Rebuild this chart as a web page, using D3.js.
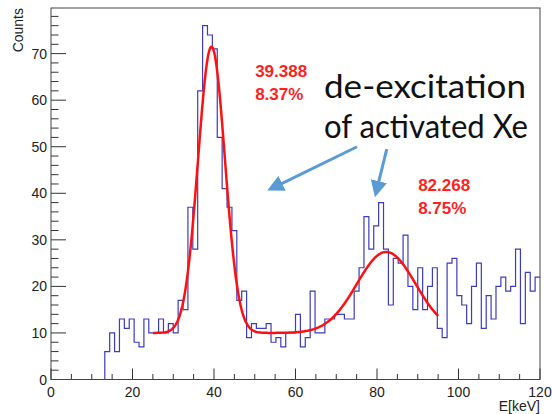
<!DOCTYPE html>
<html>
<head>
<meta charset="utf-8">
<script src="https://cdn.jsdelivr.net/npm/d3@7"></script>
<style>
  body { margin: 0; background: #fff; }
  svg { display: block; }
</style>
</head>
<body>
<svg width="552" height="414"></svg>
<script>
// histogram: 100 bins from 0 to 120 keV
var binWidth = 1.2;
var counts = [
	0, 0, 0, 0, 0, 0, 0, 0, 0, 0,
	0, 6, 10, 6, 13, 11, 13, 8, 7, 13,
	10, 10, 13, 10, 12, 10, 17, 15, 37, 28,
	62, 76, 74, 71, 52, 41, 37, 32, 17, 19,
	9, 12, 11, 11, 12, 8, 9, 7, 10, 10,
	14, 7, 9, 19, 10, 10, 13, 13, 14, 14,
	13, 13, 19, 24, 35, 28, 33, 38, 28, 16,
	26, 25, 31, 20, 15, 24, 15, 20, 24, 11,
	9, 25, 26, 18, 16, 12, 20, 25, 11, 18,
	13, 20, 22, 19, 20, 28, 12, 23, 19, 22
];

// fit: constant + two gaussians, mean and sigma/mean as printed
var fitRange = [25, 95];
var fitConst = 10;
var peakMeans = [39.388, 82.268];
var peakRes = [0.0837, 0.0875];
var peakAmps = [61.5, 17.4];
var peakLabels = [["39.388", "8.37%"], ["82.268", "8.75%"]];

var xTicks = [0, 20, 40, 60, 80, 100, 120];
var yTicks = [0, 10, 20, 30, 40, 50, 60, 70];

var svg = d3.select("svg"),
	padL = 51, padR = 540, padT = 8, padB = 379.5;

var x = d3.scaleLinear().domain([0, 120]).range([padL, padR]);
var y = d3.scaleLinear().domain([0, 1.05 * d3.max(counts)]).range([padB, padT]);

// ticks (ROOT style, pointing inward)
var g = svg.append("g");
g.selectAll(".xminor")
	.data(d3.range(0, 121, 5))
	.enter().append("line")
	.attr("x1", function (d) { return x(d); })
	.attr("x2", function (d) { return x(d); })
	.attr("y1", padB)
	.attr("y2", function (d) { return d % 20 == 0 ? padB - 11 : padB - 5.5; })
	.attr("stroke", "#333");
g.selectAll(".yminor")
	.data(d3.range(0, 79, 2))
	.enter().append("line")
	.attr("y1", function (d) { return y(d); })
	.attr("y2", function (d) { return y(d); })
	.attr("x1", padL)
	.attr("x2", function (d) { return d % 10 == 0 ? padL + 15 : padL + 7.5; })
	.attr("stroke", "#333");

// tick labels
g.selectAll(".xlab")
	.data(xTicks)
	.enter().append("text")
	.attr("x", function (d) { return x(d); })
	.attr("y", 397)
	.attr("text-anchor", "middle")
	.attr("font-family", "Liberation Sans, Arial, sans-serif")
	.attr("font-size", 14)
	.attr("fill", "#222")
	.text(function (d) { return d; });
g.selectAll(".ylab")
	.data(yTicks)
	.enter().append("text")
	.attr("x", 47)
	.attr("y", function (d) { return y(d) + 5; })
	.attr("text-anchor", "end")
	.attr("font-family", "Liberation Sans, Arial, sans-serif")
	.attr("font-size", 14)
	.attr("fill", "#222")
	.text(function (d) { return d; });

svg.append("text")
	.attr("x", padR)
	.attr("y", 411)
	.attr("text-anchor", "end")
	.attr("font-family", "Liberation Sans, Arial, sans-serif")
	.attr("font-size", 14)
	.attr("fill", "#222")
	.text("E[keV]");
svg.append("text")
	.attr("transform", "translate(23," + padT + ") rotate(-90)")
	.attr("text-anchor", "end")
	.attr("font-family", "Liberation Sans, Arial, sans-serif")
	.attr("font-size", 14)
	.attr("fill", "#222")
	.text("Counts");

// histogram steps
var pts = counts.map(function (c, i) { return [i * binWidth, c]; });
pts.push([120, counts[counts.length - 1]]);
var step = d3.line()
	.x(function (d) { return x(d[0]); })
	.y(function (d) { return y(d[1]); })
	.curve(d3.curveStepAfter);
svg.append("path")
	.attr("d", step(pts))
	.attr("fill", "none")
	.attr("stroke", "#3c3cc0")
	.attr("stroke-width", 1.2);

// fit curve
function fitFunc(e) {
	var v = fitConst;
	for (var k = 0; k < peakMeans.length; k++) {
		var s = peakRes[k] * peakMeans[k];
		v += peakAmps[k] * Math.exp(-(e - peakMeans[k]) * (e - peakMeans[k]) / (2 * s * s));
	}
	return v;
}
var fitPts = d3.range(fitRange[0], fitRange[1] + 0.01, 0.25).map(function (e) { return [e, fitFunc(e)]; });
svg.append("path")
	.attr("d", d3.line()
		.x(function (d) { return x(d[0]); })
		.y(function (d) { return y(d[1]); })(fitPts))
	.attr("fill", "none")
	.attr("stroke", "#ff1010")
	.attr("stroke-width", 2.5);

// frame
svg.append("rect")
	.attr("x", padL).attr("y", padT)
	.attr("width", padR - padL).attr("height", padB - padT)
	.attr("fill", "none")
	.attr("stroke", "#444");

// fit labels
var labelPos = [[50.1, 65.0], [90.1, 40.4]];
peakLabels.forEach(function (lab, k) {
	lab.forEach(function (t, j) {
		svg.append("text")
			.attr("x", x(labelPos[k][0]))
			.attr("y", y(labelPos[k][1]) + j * 23)
			.attr("font-family", "Liberation Sans, Arial, sans-serif")
			.attr("font-weight", "bold")
			.attr("font-size", 17)
			.attr("fill", "#ff1f1f")
			.text(t);
	});
});

// annotation
var note = ["de-excitation", "of activated Xe"];
var noteWidth = [202, 204];
svg.selectAll(".note")
	.data(note)
	.enter().append("text")
	.attr("x", 324)
	.attr("y", function (d, i) { return 98 + i * 40; })
	.attr("font-family", "Lato, sans-serif")
	.attr("font-size", 33)
	.attr("textLength", function (d, i) { return noteWidth[i]; })
	.attr("lengthAdjust", "spacingAndGlyphs")
	.attr("fill", "#111")
	.text(function (d) { return d; });

// arrows, [from, to] in data units
var arrows = [
	[[75.1, 50.0], [53.1, 40.6]],
	[[82.4, 49.5], [79.5, 39.2]]
];
svg.append("defs").append("marker")
	.attr("id", "head")
	.attr("viewBox", "0 0 10 10")
	.attr("refX", 2).attr("refY", 5)
	.attr("markerWidth", 5.5).attr("markerHeight", 5.5)
	.attr("orient", "auto")
	.append("path")
	.attr("d", "M0,0L10,5L0,10z")
	.attr("fill", "#5b9bd5");
function shorten(d, k) {
	var x1 = x(d[0][0]), x2 = x(d[1][0]), y1 = y(d[0][1]), y2 = y(d[1][1]);
	var L = Math.hypot(x2 - x1, y2 - y1);
	return k == 0 ? x2 - (x2 - x1) / L * 13 : y2 - (y2 - y1) / L * 13;
}
svg.selectAll(".arrow")
	.data(arrows)
	.enter().append("line")
	.attr("x1", function (d) { return x(d[0][0]); })
	.attr("y1", function (d) { return y(d[0][1]); })
	.attr("x2", function (d) { return shorten(d, 0); })
	.attr("y2", function (d) { return shorten(d, 1); })
	.attr("stroke", "#5b9bd5")
	.attr("stroke-width", 3)
	.attr("marker-end", "url(#head)");
</script>
</body>
</html>
